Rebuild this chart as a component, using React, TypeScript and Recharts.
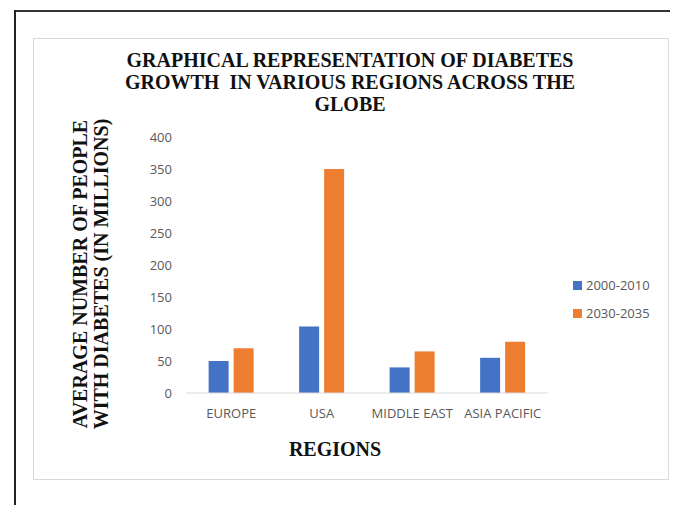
import React from 'react';
import { BarChart, Bar, XAxis, YAxis } from 'recharts';

const regions = ['EUROPE', 'USA', 'MIDDLE EAST', 'ASIA PACIFIC'];
const period2000 = [50, 104, 40, 55];
const period2030 = [70, 350, 65, 80];
const yTicks = [0, 50, 100, 150, 200, 250, 300, 350, 400];
const seriesNames = ['2000-2010', '2030-2035'];
const seriesColors = ['#4472C4', '#ED7D31'];

const data = regions.map((region, i) => ({
  region,
  early: period2000[i],
  late: period2030[i],
}));

const serifBold: React.CSSProperties = {
  fontFamily: '"Liberation Serif", "Times New Roman", serif',
  fontWeight: 700,
  color: '#111',
};

const tickStyle = { fill: '#595959', fontSize: 13, fontFamily: '"Open Sans", sans-serif' };

const App: React.FC = () => {
  return (
    <div style={{ position: 'relative', width: 670, height: 497, background: '#fff' }}>
      {/* outer frame lines */}
      <div style={{ position: 'absolute', left: 6, top: 2, width: 664, height: 2, background: '#333' }} />
      <div style={{ position: 'absolute', left: 6, top: 2, width: 2, height: 495, background: '#222' }} />
      {/* chart area box */}
      <div style={{ position: 'absolute', left: 25, top: 30, width: 634, height: 440, border: '1px solid #d9d9d9' }} />

      <div style={{ ...serifBold, position: 'absolute', left: 0, top: 41, width: 684, textAlign: 'center', fontSize: 20, lineHeight: '22px' }}>
        GRAPHICAL REPRESENTATION OF DIABETES
        <br />
        GROWTH&nbsp; IN VARIOUS REGIONS ACROSS THE
        <br />
        GLOBE
      </div>

      <div
        style={{
          ...serifBold,
          position: 'absolute',
          left: 83,
          top: 266,
          width: 340,
          fontSize: 20,
          lineHeight: '21px',
          textAlign: 'center',
          transform: 'translate(-50%, -50%) rotate(-90deg)',
        }}
      >
        AVERAGE NUMBER OF PEOPLE
        <br />
        WITH DIABETES (IN MILLIONS)
      </div>

      <div style={{ ...serifBold, position: 'absolute', left: 227, top: 430, width: 200, textAlign: 'center', fontSize: 20 }}>
        REGIONS
      </div>

      <div style={{ position: 'absolute', left: 0, top: 0 }}>
        <BarChart
          width={670}
          height={497}
          data={data}
          margin={{ top: 129, right: 130, left: 138, bottom: 82 }}
          barCategoryGap="25%"
          barGap={5}
        >
          <XAxis
            dataKey="region"
            tick={tickStyle}
            tickLine={false}
            axisLine={{ stroke: '#d9d9d9' }}
            tickMargin={10}
            height={30}
            interval={0}
          />
          <YAxis
            domain={[0, 400]}
            ticks={yTicks}
            tick={tickStyle}
            tickLine={false}
            axisLine={false}
            width={40}
            tickMargin={8}
          />
          <Bar dataKey="early" name={seriesNames[0]} fill={seriesColors[0]} isAnimationActive={false} />
          <Bar dataKey="late" name={seriesNames[1]} fill={seriesColors[1]} isAnimationActive={false} />
        </BarChart>
      </div>

      <div style={{ position: 'absolute', left: 565, top: 263, fontFamily: '"Open Sans", sans-serif', fontSize: 13, color: '#595959' }}>
        {seriesNames.map((name, i) => (
          <div key={name} style={{ display: 'flex', alignItems: 'center', height: 28 }}>
            <span style={{ width: 9, height: 9, background: seriesColors[i], marginRight: 4 }} />
            {name}
          </div>
        ))}
      </div>
    </div>
  );
};

export default App;
